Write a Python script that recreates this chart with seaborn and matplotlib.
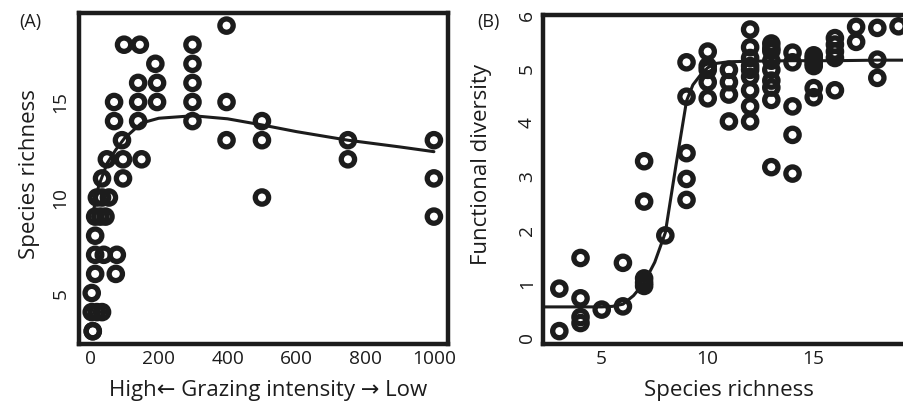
import matplotlib
matplotlib.use("Agg")
import matplotlib.pyplot as plt
import seaborn as sns
import pandas as pd

sns.set_theme(style="white")
plt.rcParams['font.family'] = ['Open Sans', 'DejaVu Sans']

# ---------------- Panel A data ----------------
grazing = [8, 8, 5, 20, 35, 5, 15, 75, 15, 40, 78, 15, 15, 30, 45, 20, 35, 55,
           35, 96, 49, 96, 150, 93, 70, 140, 70, 140, 195, 140, 195, 190, 99, 145,
           298, 298, 298, 298, 298, 397, 397, 397, 500, 500, 500, 750, 750,
           1000, 1000, 1000]
richness_a = [3, 3, 4, 4, 4, 5, 6, 6, 7, 7, 7, 8, 9, 9, 9, 10, 10, 10,
              11, 11, 12, 12, 12, 13, 14, 14, 15, 15, 15, 16, 16, 17, 18, 18,
              14, 15, 16, 17, 18, 13, 15, 19, 10, 13, 14, 12, 13,
              9, 11, 13]
fit_a_x = [10, 25, 50, 75, 100, 150, 200, 300, 400, 500, 600, 750, 900, 1000]
fit_a_y = [9.3, 10.6, 11.8, 12.5, 13.1, 13.9, 14.15, 14.28, 14.12, 13.8, 13.45, 13.0, 12.65, 12.4]

# ---------------- Panel B data ----------------
richness_b = ([3] * 2 + [4] * 4 + [5] * 1 + [6] * 2 + [7] * 5 + [8] * 1 + [9] * 5 +
              [10] * 5 + [11] * 4 + [12] * 9 + [13] * 9 + [14] * 5 + [15] * 7 +
              [16] * 5 + [17] * 2 + [18] * 3 + [19] * 1)
func_div = [0.91, 0.12,
            1.48, 0.73, 0.38, 0.27,
            0.52,
            1.39, 0.58,
            3.28, 2.53, 1.1, 1.02, 0.96,
            1.9,
            5.12, 4.48, 3.43, 2.95, 2.56,
            5.32, 5.05, 4.98, 4.75, 4.45,
            4.98, 4.75, 4.52, 4.02,
            5.73, 5.4, 5.2, 5.05, 4.98, 4.85, 4.6, 4.3, 4.02,
            5.47, 5.33, 5.15, 4.98, 4.78, 4.65, 4.42, 3.17, 5.38,
            5.3, 5.12, 4.3, 3.77, 3.05,
            5.05, 5.1, 5.15, 5.2, 5.25, 4.64, 4.47,
            5.57, 5.45, 5.32, 5.2, 4.6,
            5.78, 5.5,
            5.76, 5.17, 4.83,
            5.79]
fit_b_x = [2.2, 3, 4, 5, 5.5, 6, 6.5, 7, 7.5, 8, 8.5, 9, 9.3, 9.65, 10, 10.4, 11, 12, 14, 16, 18, 19.4]
fit_b_y = [0.57, 0.57, 0.57, 0.57, 0.58, 0.62, 0.78, 1.02, 1.4, 1.95, 3.2, 4.4, 4.7, 4.88, 5.02, 5.1, 5.13, 5.14, 5.15, 5.15, 5.16, 5.16]

dfa = pd.DataFrame({"g": grazing, "s": richness_a})
dfb = pd.DataFrame({"s": richness_b, "f": func_div})

INK = "#1c1c1c"
fig = plt.figure(figsize=(9.04, 4.04), dpi=100)
axA = fig.add_axes([79 / 904, 1 - 344 / 404, 369 / 904, 331 / 404])
axB = fig.add_axes([543 / 904, 1 - 344 / 404, 364 / 904, 329 / 404])

mk = dict(s=92, marker="o", facecolors="none", edgecolors=INK, linewidth=3.8, legend=False)

sns.scatterplot(data=dfa, x="g", y="s", ax=axA, **mk)
sns.lineplot(x=fit_a_x, y=fit_a_y, ax=axA, color=INK, linewidth=2.2, sort=False)
sns.scatterplot(data=dfb, x="s", y="f", ax=axB, **mk)
sns.lineplot(x=fit_b_x, y=fit_b_y, ax=axB, color=INK, linewidth=2.2, sort=False)

axA.set_xlim(-32, 1041)
axA.set_ylim(2.33, 19.66)
axA.set_xticks([0, 200, 400, 600, 800, 1000])
axA.set_yticks([5, 10, 15])
axB.set_xlim(2.23, 19.4)
axB.set_ylim(-0.12, 6.0)
axB.set_xticks([5, 10, 15])
axB.set_yticks([0, 1, 2, 3, 4, 5, 6])

for ax, ypad in ((axA, 7), (axB, 5)):
    for sp in ax.spines.values():
        sp.set_linewidth(3.2)
        sp.set_color(INK)
    ax.tick_params(axis="both", direction="in", length=5, width=1.5, color=INK,
                   labelsize=13.8, labelcolor=INK)
    ax.tick_params(axis="x", pad=4)
    ax.tick_params(axis="y", pad=ypad)
    for t in ax.get_yticklabels():
        t.set_rotation(90)
        t.set_va("center")
        t.set_ha("right")

axA.set_xlabel("High\u2190 Grazing intensity \u2192 Low", fontsize=16, color=INK, va="center")
axA.set_ylabel("Species richness", fontsize=16, color=INK, va="center")
axA.xaxis.set_label_coords(0.512, -0.139)
axA.yaxis.set_label_coords(-0.133, 0.514)

axB.set_xlabel("Species richness", fontsize=16, color=INK, va="center")
axB.set_ylabel("Functional diversity", fontsize=16, color=INK, va="center")
axB.xaxis.set_label_coords(0.51, -0.14)
axB.yaxis.set_label_coords(-0.168, 0.547)

fig.text(30 / 904, 1 - 22 / 404, "(A)", fontsize=13, color=INK, ha="center", va="center")
fig.text(488 / 904, 1 - 22 / 404, "(B)", fontsize=13, color=INK, ha="center", va="center")

fig.savefig("out.png", dpi=100)
